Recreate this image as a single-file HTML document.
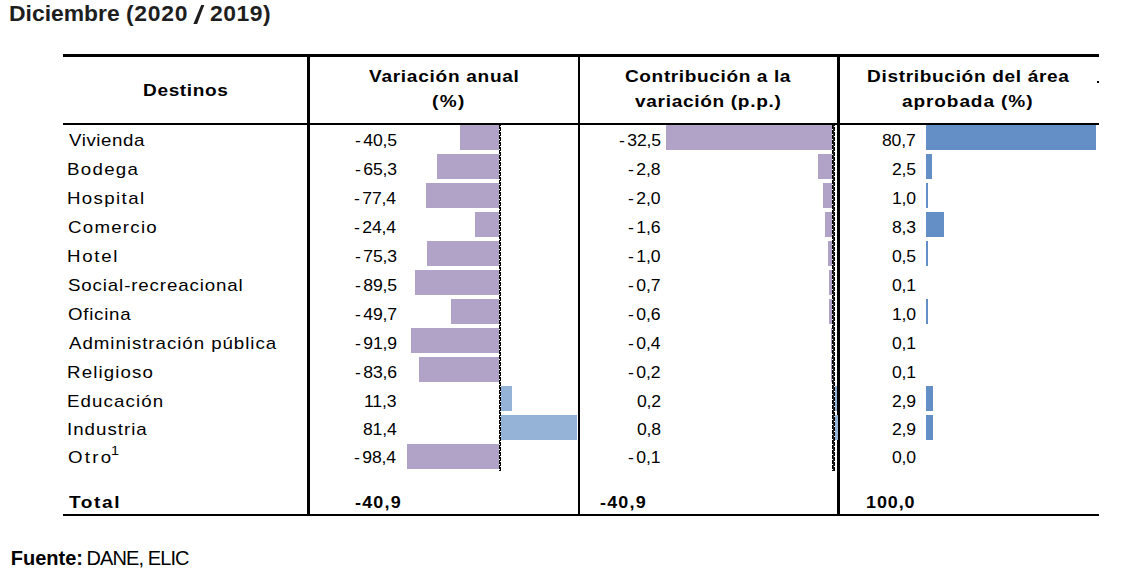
<!DOCTYPE html>
<html><head><meta charset="utf-8"><title>Diciembre (2020 / 2019)</title>
<style>
html,body{margin:0;padding:0;background:#fff;}
body{width:1125px;height:577px;position:relative;overflow:hidden;font-family:"Liberation Sans", sans-serif;color:#000;}
.t{position:absolute;white-space:nowrap;}
.r{position:absolute;}
</style></head><body>
<div class="r" style="left:63px;top:54px;width:1036px;height:3px;background:#000;"></div>
<div class="r" style="left:63px;top:123px;width:1036px;height:2px;background:#000;"></div>
<div class="r" style="left:63px;top:514px;width:1036px;height:2px;background:#000;"></div>
<div class="r" style="left:307px;top:54px;width:3px;height:462px;background:#000;"></div>
<div class="r" style="left:578px;top:54px;width:2px;height:462px;background:#000;"></div>
<div class="r" style="left:837px;top:54px;width:3px;height:462px;background:#000;"></div>
<div class="r" style="left:1097px;top:81px;width:2px;height:2px;background:#000;"></div>
<svg class="r" style="left:190px;top:0" width="20" height="30" viewBox="190 0 20 30"><polygon points="201.2,4.9 204.3,4.9 197.1,23.9 193.4,23.9" fill="#1e1e1e"/></svg>
<div class="r" style="left:460px;top:125px;width:39px;height:25px;background:#B1A2C8;"></div>
<div class="r" style="left:666px;top:125px;width:166px;height:25px;background:#B1A2C8;"></div>
<div class="r" style="left:926px;top:125px;width:170px;height:25px;background:#648FC6;"></div>
<div class="r" style="left:437px;top:154px;width:62px;height:25px;background:#B1A2C8;"></div>
<div class="r" style="left:818px;top:154px;width:14px;height:25px;background:#B1A2C8;"></div>
<div class="r" style="left:926px;top:154px;width:6px;height:25px;background:#648FC6;"></div>
<div class="r" style="left:426px;top:183px;width:73px;height:25px;background:#B1A2C8;"></div>
<div class="r" style="left:823px;top:183px;width:9px;height:25px;background:#B1A2C8;"></div>
<div class="r" style="left:926px;top:183px;width:2px;height:25px;background:#648FC6;"></div>
<div class="r" style="left:475px;top:212px;width:24px;height:25px;background:#B1A2C8;"></div>
<div class="r" style="left:825px;top:212px;width:7px;height:25px;background:#B1A2C8;"></div>
<div class="r" style="left:926px;top:212px;width:18px;height:25px;background:#648FC6;"></div>
<div class="r" style="left:427px;top:241px;width:72px;height:25px;background:#B1A2C8;"></div>
<div class="r" style="left:828px;top:241px;width:4px;height:25px;background:#B1A2C8;"></div>
<div class="r" style="left:926px;top:241px;width:2px;height:25px;background:#648FC6;"></div>
<div class="r" style="left:415px;top:270px;width:84px;height:25px;background:#B1A2C8;"></div>
<div class="r" style="left:829px;top:270px;width:3px;height:25px;background:#B1A2C8;"></div>
<div class="r" style="left:451px;top:299px;width:48px;height:25px;background:#B1A2C8;"></div>
<div class="r" style="left:829px;top:299px;width:3px;height:25px;background:#B1A2C8;"></div>
<div class="r" style="left:926px;top:299px;width:2px;height:25px;background:#648FC6;"></div>
<div class="r" style="left:411px;top:328px;width:88px;height:25px;background:#B1A2C8;"></div>
<div class="r" style="left:831px;top:328px;width:1px;height:25px;background:#B1A2C8;"></div>
<div class="r" style="left:419px;top:357px;width:80px;height:25px;background:#B1A2C8;"></div>
<div class="r" style="left:831px;top:357px;width:1px;height:25px;background:#B1A2C8;"></div>
<div class="r" style="left:500px;top:386px;width:12px;height:25px;background:#95B3D7;"></div>
<div class="r" style="left:835px;top:386px;width:2px;height:25px;background:#95B3D7;"></div>
<div class="r" style="left:926px;top:386px;width:7px;height:25px;background:#648FC6;"></div>
<div class="r" style="left:500px;top:415px;width:77px;height:25px;background:#95B3D7;"></div>
<div class="r" style="left:835px;top:415px;width:3px;height:25px;background:#95B3D7;"></div>
<div class="r" style="left:926px;top:415px;width:7px;height:25px;background:#648FC6;"></div>
<div class="r" style="left:407px;top:444px;width:92px;height:25px;background:#B1A2C8;"></div>
<div class="r" style="left:499px;top:125px;width:1px;height:346px;background:repeating-linear-gradient(to bottom,#000 0 4px,#fff 4px 5px);"></div>
<div class="r" style="left:500px;top:125px;width:1px;height:346px;background:repeating-linear-gradient(to bottom,#000 0 1.5px,#fff 1.5px 2.5px,#000 2.5px 5px);"></div>
<div class="r" style="left:832px;top:125px;width:1px;height:346px;background:repeating-linear-gradient(to bottom,#000 0 4px,#fff 4px 5px);"></div>
<div class="r" style="left:833px;top:125px;width:1px;height:346px;background:#222"></div>
<div class="r" style="left:834px;top:125px;width:1px;height:346px;background:repeating-linear-gradient(to bottom,#000 0 1.5px,#fff 1.5px 2.5px,#000 2.5px 5px);"></div>
<div class="t" style="left:9.2px;top:1px;font-size:22px;line-height:26px;font-weight:700;letter-spacing:0.007px;transform:scaleX(1.04);transform-origin:0 0;color:#1e1e1e;">Diciembre</div>
<div class="t" style="left:126.3px;top:1px;font-size:22px;line-height:26px;font-weight:700;letter-spacing:0.716px;transform:scaleX(1.04);transform-origin:0 0;color:#1e1e1e;">(2020</div>
<div class="t" style="left:210.2px;top:1px;font-size:22px;line-height:26px;font-weight:700;letter-spacing:0.524px;transform:scaleX(1.04);transform-origin:0 0;color:#1e1e1e;">2019)</div>
<div class="t" style="left:143.4px;top:81px;font-size:17px;line-height:20px;font-weight:700;letter-spacing:0.575px;transform:scaleX(1.12);transform-origin:0 0;">Destinos</div>
<div class="t" style="left:369.0px;top:67px;font-size:17px;line-height:20px;font-weight:700;letter-spacing:0.652px;transform:scaleX(1.12);transform-origin:0 0;">Variación anual</div>
<div class="t" style="left:431.6px;top:92px;font-size:17px;line-height:20px;font-weight:700;letter-spacing:1.174px;transform:scaleX(1.12);transform-origin:0 0;">(%)</div>
<div class="t" style="left:624.7px;top:67px;font-size:17px;line-height:20px;font-weight:700;letter-spacing:0.555px;transform:scaleX(1.12);transform-origin:0 0;">Contribución a la</div>
<div class="t" style="left:634.5px;top:92px;font-size:17px;line-height:20px;font-weight:700;letter-spacing:0.616px;transform:scaleX(1.12);transform-origin:0 0;">variación (p.p.)</div>
<div class="t" style="left:866.9px;top:67px;font-size:17px;line-height:20px;font-weight:700;letter-spacing:0.607px;transform:scaleX(1.12);transform-origin:0 0;">Distribución del área</div>
<div class="t" style="left:902.2px;top:92px;font-size:17px;line-height:20px;font-weight:700;letter-spacing:0.802px;transform:scaleX(1.12);transform-origin:0 0;">aprobada (%)</div>
<div class="t" style="left:69.0px;top:131px;font-size:17px;line-height:20px;letter-spacing:0.509px;transform:scaleX(1.1);transform-origin:0 0;">Vivienda</div>
<div class="t" style="left:67.0px;top:160px;font-size:17px;line-height:20px;letter-spacing:1.182px;transform:scaleX(1.1);transform-origin:0 0;">Bodega</div>
<div class="t" style="left:67.0px;top:189px;font-size:17px;line-height:20px;letter-spacing:1.236px;transform:scaleX(1.1);transform-origin:0 0;">Hospital</div>
<div class="t" style="left:68.0px;top:218px;font-size:17px;line-height:20px;letter-spacing:1.133px;transform:scaleX(1.1);transform-origin:0 0;">Comercio</div>
<div class="t" style="left:67.0px;top:247px;font-size:17px;line-height:20px;letter-spacing:1.554px;transform:scaleX(1.1);transform-origin:0 0;">Hotel</div>
<div class="t" style="left:68.0px;top:276px;font-size:17px;line-height:20px;letter-spacing:0.787px;transform:scaleX(1.1);transform-origin:0 0;">Social-recreacional</div>
<div class="t" style="left:68.0px;top:305px;font-size:17px;line-height:20px;letter-spacing:0.675px;transform:scaleX(1.1);transform-origin:0 0;">Oficina</div>
<div class="t" style="left:69.0px;top:334px;font-size:17px;line-height:20px;letter-spacing:0.868px;transform:scaleX(1.1);transform-origin:0 0;">Administración pública</div>
<div class="t" style="left:67.0px;top:363px;font-size:17px;line-height:20px;letter-spacing:1.02px;transform:scaleX(1.1);transform-origin:0 0;">Religioso</div>
<div class="t" style="left:67.0px;top:392px;font-size:17px;line-height:20px;letter-spacing:0.998px;transform:scaleX(1.1);transform-origin:0 0;">Educación</div>
<div class="t" style="left:67.0px;top:420px;font-size:17px;line-height:20px;letter-spacing:0.907px;transform:scaleX(1.1);transform-origin:0 0;">Industria</div>
<div class="t" style="left:68.0px;top:448px;font-size:17px;line-height:20px;letter-spacing:2.023px;transform:scaleX(1.1);transform-origin:0 0;">Otro</div>
<div class="t" style="left:355.1px;top:131px;font-size:16px;line-height:20px;letter-spacing:-0.155px;transform:scaleX(1.1);transform-origin:0 0;"><span style="margin-right:2.36px">-</span>40,5</div>
<div class="t" style="left:619.3px;top:131px;font-size:16px;line-height:20px;letter-spacing:-0.155px;transform:scaleX(1.1);transform-origin:0 0;"><span style="margin-right:2.36px">-</span>32,5</div>
<div class="t" style="left:882.0px;top:131px;font-size:16px;line-height:20px;letter-spacing:-0.155px;transform:scaleX(1.1);transform-origin:0 0;">80,7</div>
<div class="t" style="left:355.1px;top:160px;font-size:16px;line-height:20px;letter-spacing:-0.155px;transform:scaleX(1.1);transform-origin:0 0;"><span style="margin-right:2.36px">-</span>65,3</div>
<div class="t" style="left:628.3px;top:160px;font-size:16px;line-height:20px;letter-spacing:-0.155px;transform:scaleX(1.1);transform-origin:0 0;"><span style="margin-right:2.36px">-</span>2,8</div>
<div class="t" style="left:892.0px;top:160px;font-size:16px;line-height:20px;letter-spacing:-0.155px;transform:scaleX(1.1);transform-origin:0 0;">2,5</div>
<div class="t" style="left:354.1px;top:189px;font-size:16px;line-height:20px;letter-spacing:-0.155px;transform:scaleX(1.1);transform-origin:0 0;"><span style="margin-right:2.36px">-</span>77,4</div>
<div class="t" style="left:628.3px;top:189px;font-size:16px;line-height:20px;letter-spacing:-0.155px;transform:scaleX(1.1);transform-origin:0 0;"><span style="margin-right:2.36px">-</span>2,0</div>
<div class="t" style="left:892.0px;top:189px;font-size:16px;line-height:20px;letter-spacing:-0.155px;transform:scaleX(1.1);transform-origin:0 0;">1,0</div>
<div class="t" style="left:354.1px;top:218px;font-size:16px;line-height:20px;letter-spacing:-0.155px;transform:scaleX(1.1);transform-origin:0 0;"><span style="margin-right:2.36px">-</span>24,4</div>
<div class="t" style="left:628.3px;top:218px;font-size:16px;line-height:20px;letter-spacing:-0.155px;transform:scaleX(1.1);transform-origin:0 0;"><span style="margin-right:2.36px">-</span>1,6</div>
<div class="t" style="left:892.0px;top:218px;font-size:16px;line-height:20px;letter-spacing:-0.155px;transform:scaleX(1.1);transform-origin:0 0;">8,3</div>
<div class="t" style="left:355.1px;top:247px;font-size:16px;line-height:20px;letter-spacing:-0.155px;transform:scaleX(1.1);transform-origin:0 0;"><span style="margin-right:2.36px">-</span>75,3</div>
<div class="t" style="left:628.3px;top:247px;font-size:16px;line-height:20px;letter-spacing:-0.155px;transform:scaleX(1.1);transform-origin:0 0;"><span style="margin-right:2.36px">-</span>1,0</div>
<div class="t" style="left:892.0px;top:247px;font-size:16px;line-height:20px;letter-spacing:-0.155px;transform:scaleX(1.1);transform-origin:0 0;">0,5</div>
<div class="t" style="left:355.1px;top:276px;font-size:16px;line-height:20px;letter-spacing:-0.155px;transform:scaleX(1.1);transform-origin:0 0;"><span style="margin-right:2.36px">-</span>89,5</div>
<div class="t" style="left:628.3px;top:276px;font-size:16px;line-height:20px;letter-spacing:-0.155px;transform:scaleX(1.1);transform-origin:0 0;"><span style="margin-right:2.36px">-</span>0,7</div>
<div class="t" style="left:892.0px;top:276px;font-size:16px;line-height:20px;letter-spacing:-0.155px;transform:scaleX(1.1);transform-origin:0 0;">0,1</div>
<div class="t" style="left:355.1px;top:305px;font-size:16px;line-height:20px;letter-spacing:-0.155px;transform:scaleX(1.1);transform-origin:0 0;"><span style="margin-right:2.36px">-</span>49,7</div>
<div class="t" style="left:628.3px;top:305px;font-size:16px;line-height:20px;letter-spacing:-0.155px;transform:scaleX(1.1);transform-origin:0 0;"><span style="margin-right:2.36px">-</span>0,6</div>
<div class="t" style="left:892.0px;top:305px;font-size:16px;line-height:20px;letter-spacing:-0.155px;transform:scaleX(1.1);transform-origin:0 0;">1,0</div>
<div class="t" style="left:355.1px;top:334px;font-size:16px;line-height:20px;letter-spacing:-0.155px;transform:scaleX(1.1);transform-origin:0 0;"><span style="margin-right:2.36px">-</span>91,9</div>
<div class="t" style="left:628.3px;top:334px;font-size:16px;line-height:20px;letter-spacing:-0.155px;transform:scaleX(1.1);transform-origin:0 0;"><span style="margin-right:2.36px">-</span>0,4</div>
<div class="t" style="left:892.0px;top:334px;font-size:16px;line-height:20px;letter-spacing:-0.155px;transform:scaleX(1.1);transform-origin:0 0;">0,1</div>
<div class="t" style="left:355.1px;top:363px;font-size:16px;line-height:20px;letter-spacing:-0.155px;transform:scaleX(1.1);transform-origin:0 0;"><span style="margin-right:2.36px">-</span>83,6</div>
<div class="t" style="left:628.3px;top:363px;font-size:16px;line-height:20px;letter-spacing:-0.155px;transform:scaleX(1.1);transform-origin:0 0;"><span style="margin-right:2.36px">-</span>0,2</div>
<div class="t" style="left:892.0px;top:363px;font-size:16px;line-height:20px;letter-spacing:-0.155px;transform:scaleX(1.1);transform-origin:0 0;">0,1</div>
<div class="t" style="left:364.1px;top:392px;font-size:16px;line-height:20px;letter-spacing:-0.155px;transform:scaleX(1.1);transform-origin:0 0;">11,3</div>
<div class="t" style="left:637.3px;top:392px;font-size:16px;line-height:20px;letter-spacing:-0.155px;transform:scaleX(1.1);transform-origin:0 0;">0,2</div>
<div class="t" style="left:892.0px;top:392px;font-size:16px;line-height:20px;letter-spacing:-0.155px;transform:scaleX(1.1);transform-origin:0 0;">2,9</div>
<div class="t" style="left:363.1px;top:420px;font-size:16px;line-height:20px;letter-spacing:-0.155px;transform:scaleX(1.1);transform-origin:0 0;">81,4</div>
<div class="t" style="left:637.3px;top:420px;font-size:16px;line-height:20px;letter-spacing:-0.155px;transform:scaleX(1.1);transform-origin:0 0;">0,8</div>
<div class="t" style="left:892.0px;top:420px;font-size:16px;line-height:20px;letter-spacing:-0.155px;transform:scaleX(1.1);transform-origin:0 0;">2,9</div>
<div class="t" style="left:354.1px;top:448px;font-size:16px;line-height:20px;letter-spacing:-0.155px;transform:scaleX(1.1);transform-origin:0 0;"><span style="margin-right:2.36px">-</span>98,4</div>
<div class="t" style="left:628.3px;top:448px;font-size:16px;line-height:20px;letter-spacing:-0.155px;transform:scaleX(1.1);transform-origin:0 0;"><span style="margin-right:2.36px">-</span>0,1</div>
<div class="t" style="left:892.0px;top:448px;font-size:16px;line-height:20px;letter-spacing:-0.155px;transform:scaleX(1.1);transform-origin:0 0;">0,0</div>
<div class="t" style="left:111.2px;top:444px;font-size:13px;line-height:14px;letter-spacing:0px;transform:scaleX(1.1);transform-origin:0 0;">1</div>
<div class="t" style="left:68.5px;top:493px;font-size:17px;line-height:20px;font-weight:700;letter-spacing:1.45px;transform:scaleX(1.12);transform-origin:0 0;">Total</div>
<div class="t" style="left:354.9px;top:493px;font-size:16px;line-height:20px;font-weight:700;letter-spacing:1.076px;transform:scaleX(1.12);transform-origin:0 0;">-40,9</div>
<div class="t" style="left:600.2px;top:493px;font-size:16px;line-height:20px;font-weight:700;letter-spacing:1.076px;transform:scaleX(1.12);transform-origin:0 0;">-40,9</div>
<div class="t" style="left:866.4px;top:493px;font-size:16px;line-height:20px;font-weight:700;letter-spacing:0.83px;transform:scaleX(1.12);transform-origin:0 0;">100,0</div>
<div class="t" style="left:10.8px;top:546px;font-size:20px;line-height:24px;font-weight:700;letter-spacing:-0.017px;">Fuente:</div>
<div class="t" style="left:86.4px;top:546px;font-size:20px;line-height:24px;letter-spacing:-0.889px;">DANE, ELIC</div>
</body></html>
